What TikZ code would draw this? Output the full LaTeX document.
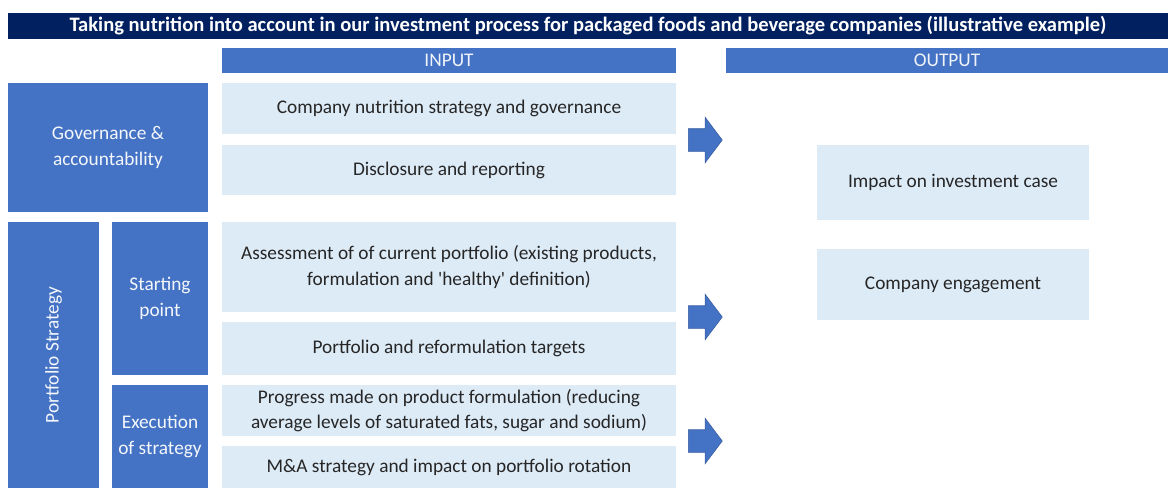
\documentclass[tikz,border=0pt]{standalone}
\usepackage{fontspec}
\setmainfont{Carlito}
\usetikzlibrary{shapes.arrows}

\definecolor{navy}{HTML}{002060}
\definecolor{midblue}{HTML}{4472C4}
\definecolor{paleblue}{HTML}{DDEBF7}
\definecolor{inktext}{HTML}{262626}

\tikzset{
	head/.style={fill=midblue,text=white!92!midblue,inner sep=0pt,align=center},
	side/.style={fill=midblue,text=white!94!midblue,inner sep=0pt,align=center},
	item/.style={fill=paleblue,text=inktext,inner sep=0pt,align=center},
	bigarrow/.style={single arrow,fill=midblue,draw=midblue!80!black,line width=0.3pt,
		inner xsep=0pt,inner ysep=0.22cm,minimum height=0.68cm,anchor=tail,
		single arrow head extend=0.23cm,single arrow tip angle=106}
}

\begin{document}
\begin{tikzpicture}[x=0.02cm,y=-0.02cm,font=\fontsize{11}{14.7}\selectfont]
	\useasboundingbox (0,0) rectangle (1168,488);

	% title and column heads
	\node[fill=navy,text=white,font=\fontsize{11.7}{14}\selectfont\bfseries,inner sep=0pt,
		minimum width=23.2cm,minimum height=0.52cm] (title) at (588,26)
		{Taking nutrition into account in our investment process for packaged foods and beverage companies (illustrative example)};
	\node[head,minimum width=9.08cm,minimum height=0.5cm] (input) at (449,60.5) {INPUT};
	\node[head,minimum width=8.84cm,minimum height=0.5cm] (output) at (947,60.5) {OUTPUT};

	% row labels
	\node[side,minimum width=4cm,minimum height=2.58cm] (gov) at (108,147.5) {Governance \&\\accountability};
	\node[side,minimum width=1.82cm,minimum height=5.32cm] (port) at (53.5,355) {};
	\node[text=white!94!midblue,rotate=90] (portlabel) at (port.center) {Portfolio Strategy};
	\node[side,minimum width=1.92cm,minimum height=3.06cm] (start) at (160,298.5) {Starting\\point};
	\node[side,minimum width=1.92cm,minimum height=2.06cm] (exec) at (160,436.5) {Execution\\of strategy};

	% input items
	\node[item,minimum width=9.08cm,minimum height=1.02cm] (in1) at (449,108.5) {Company nutrition strategy and governance};
	\node[item,minimum width=9.08cm,minimum height=1cm] (in2) at (449,170) {Disclosure and reporting};
	\node[item,minimum width=9.08cm,minimum height=1.8cm] (in3) at (449,267)
		{Assessment of of current portfolio (existing products,\\formulation and \textquotesingle healthy\textquotesingle{} definition)};
	\node[item,minimum width=9.08cm,minimum height=1.06cm] (in4) at (449,348.5) {Portfolio and reformulation targets};
	\node[item,minimum width=9.08cm,minimum height=1.02cm] (in5) at (449,410.5)
		{Progress made on product formulation (reducing\\average levels of saturated fats, sugar and sodium)};
	\node[item,minimum width=9.08cm,minimum height=0.84cm] (in6) at (449,467) {M\&A strategy and impact on portfolio rotation};

	% arrows
	\foreach \n/\y in {a1/140,a2/317,a3/441}
		\node[bigarrow] (\n) at (688,\y) {};

	% output items
	\node[item,minimum width=5.44cm,minimum height=1.5cm] (out1) at (953,182.5) {Impact on investment case};
	\node[item,minimum width=5.44cm,minimum height=1.42cm] (out2) at (953,284.5) {Company engagement};
\end{tikzpicture}
\end{document}
